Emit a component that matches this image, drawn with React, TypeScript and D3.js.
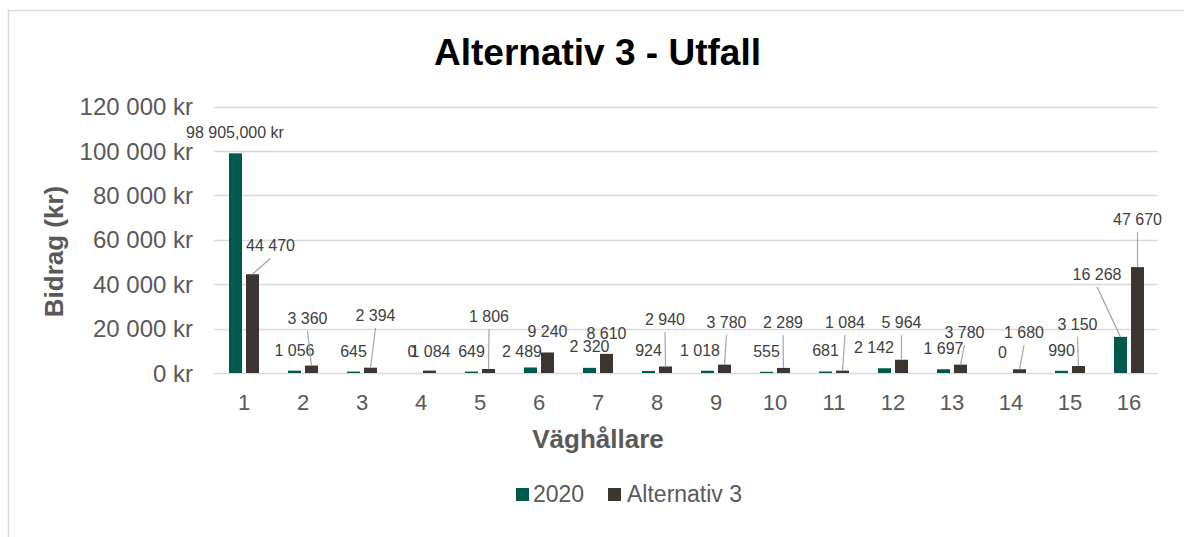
import React from 'react';
import * as d3 from 'd3';

// data
const categories = ['1', '2', '3', '4', '5', '6', '7', '8', '9', '10', '11', '12', '13', '14', '15', '16'];
const seriesNames = ['2020', 'Alternativ 3'];
const values2020 = [98905, 1056, 645, 0, 649, 2489, 2320, 924, 1018, 555, 681, 2142, 1697, 0, 990, 16268];
const valuesAlt3 = [44470, 3360, 2394, 1084, 1806, 9240, 8610, 2940, 3780, 2289, 1084, 5964, 3780, 1680, 3150, 47670];
const yTicks = [0, 20000, 40000, 60000, 80000, 100000, 120000];

// manual label placement (offset from bar top, like the moved labels in the original)
const offsets2020 = [[-0.5, -15], [0, -15], [0, -15], [-0.5, -16], [0, -15], [-8.5, -10.5], [0, -16], [0, -15],
    [-7.5, -15], [0, -15], [0, -15], [-10.5, -15], [0, -15], [0, -15], [0, -15], [-23.5, -57]];
const offsetsAlt3 = [[18, -23], [-4, -41.5], [5, -46.7], [1, -14], [0.5, -47], [0, -15.5], [0, -15], [-0.5, -41.5],
    [2, -36.6], [-0.5, -40], [2.5, -42.6], [0, -32], [4, -26.6], [4.5, -31], [-1, -36], [0, -42]];

const colors = ['#005A4B', '#3D3531'];
const FONT = '"Liberation Sans", Arial, sans-serif';

const sv = d3.formatLocale({ decimal: ',', thousands: ' ', grouping: [3], currency: ['', ' kr'] });
const fmt = sv.format(',d');

const App = () => {
    const x0 = d3.scaleBand().domain(categories).range([214.5, 1158.5]);
    const x1 = d3.scaleBand().domain(seriesNames).range([14.5, 44.5]).paddingInner(2 - 30 / 17);
    const y = d3.scaleLinear().domain([0, 120000]).range([373, 106.5]);

    const series = [
        { name: seriesNames[0], values: values2020, offsets: offsets2020 },
        { name: seriesNames[1], values: valuesAlt3, offsets: offsetsAlt3 }
    ];

    const labelText = (s: number, i: number, v: number) =>
        s === 0 && i === 0 ? fmt(v) + ',000 kr' : fmt(v);

    return (
        <svg width={1184} height={537} style={{ position: 'absolute', left: 0, top: 0, fontFamily: FONT }}>
            <rect x={0} y={0} width={1184} height={537} fill="#fff" />
            {/* chart border */}
            <path d="M8.5,545 V10.5 H1190" fill="none" stroke="#D9D9D9" strokeWidth={1.5} />

            <text x={597.5} y={65} textAnchor="middle" fontSize={37} fontWeight="bold" fill="#000">
                Alternativ 3 - Utfall
            </text>

            {/* gridlines + y ticks */}
            {yTicks.map(t => (
                <g key={t}>
                    <line x1={214} x2={1158} y1={Math.round(y(t)) + 0.5} y2={Math.round(y(t)) + 0.5} stroke="#D9D9D9" strokeWidth={1.5} />
                    <text x={193} y={y(t)} dy="0.36em" textAnchor="end" fontSize={24} fill="#595959">
                        {fmt(t) + ' kr'}
                    </text>
                </g>
            ))}

            {/* bars */}
            {series.map((s, si) => s.values.map((v, i) => (
                <rect key={s.name + i}
                    x={x0(categories[i])! + x1(s.name)!}
                    y={y(v)}
                    width={x1.bandwidth()}
                    height={y(0) - y(v)}
                    fill={colors[si]} />
            )))}

            {/* data labels and leader lines */}
            {series.map((s, si) => s.values.map((v, i) => {
                const bx = x0(categories[i])! + x1(s.name)! + x1.bandwidth() / 2;
                const by = y(v);
                const [dx, dy] = s.offsets[i];
                const lx = bx + dx, ly = by + dy;
                return (
                    <g key={'l' + s.name + i}>
                        {dy < -20 && (
                            <line x1={lx} y1={ly + 7} x2={bx} y2={by} stroke="#A6A6A6" strokeWidth={1.2} />
                        )}
                        <text x={lx} y={ly} textAnchor="middle" fontSize={16} fill="#404040">
                            {labelText(si, i, v)}
                        </text>
                    </g>
                );
            }))}

            {/* x ticks */}
            {categories.map(c => (
                <text key={c} x={x0(c)! + x0.bandwidth() / 2} y={410} textAnchor="middle" fontSize={22} fill="#595959">
                    {c}
                </text>
            ))}

            <text x={598} y={448} textAnchor="middle" fontSize={26} fontWeight="bold" fill="#595959">Väghållare</text>
            <text transform="translate(63,251.5) rotate(-90)" textAnchor="middle" fontSize={26} fontWeight="bold" fill="#595959">
                Bidrag (kr)
            </text>

            {/* legend */}
            <rect x={516} y={488} width={13} height={13} fill={colors[0]} />
            <text x={533} y={502} fontSize={23} fill="#595959">{seriesNames[0]}</text>
            <rect x={608} y={488} width={13} height={13} fill={colors[1]} />
            <text x={627} y={502} fontSize={23} fill="#595959">{seriesNames[1]}</text>
        </svg>
    );
};

export default App;
